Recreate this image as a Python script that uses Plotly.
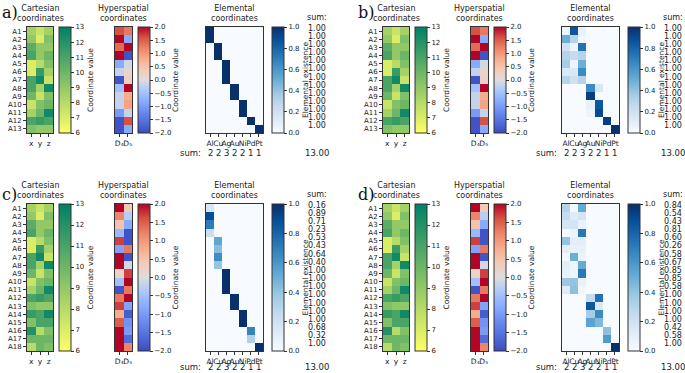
import plotly.graph_objects as go

W, H = 685, 373

# ---------------- data ----------------
atoms = ["A1", "A2", "A3", "A4", "A5", "A6", "A7", "A8", "A9",
         "A10", "A11", "A12", "A13", "A14", "A15", "A16", "A17", "A18"]
cart_labels = ["x", "y", "z"]
hyper_labels = ["D\u2084", "D\u2085"]
elements = ["Al", "Cu", "Ag", "Au", "Ni", "Pd", "Pt"]
element_counts = ["2", "2", "3", "2", "2", "1", "1"]
total_sum = "13.00"

cart_x = [8.5, 9.0, 10.5, 11.0, 7.0, 7.0, 11.0, 11.0, 10.0, 7.5, 8.5, 11.0, 9.5, 11.5, 9.5, 12.0, 10.0, 8.0]
cart_y = [7.5, 7.0, 9.0, 9.0, 8.0, 11.5, 12.5, 8.5, 7.5, 9.5, 10.0, 11.5, 9.0, 11.0, 11.0, 8.0, 10.0, 10.0]
cart_z = [8.5, 9.5, 9.0, 10.0, 9.5, 8.5, 7.5, 12.5, 9.5, 10.0, 12.5, 11.0, 9.0, 12.5, 11.0, 9.5, 10.0, 9.5]

hyper_ab_d4 = [1.6, 2.0, 1.4, 2.0, -0.8, -0.2, -1.9, -0.5, -0.2, -0.2, -1.0, -1.9, -1.9]
hyper_ab_d5 = [1.3, -0.8, 2.0, -1.9, -0.1, 0.2, 0.3, 2.0, 0.8, 0.9, -0.2, 1.6, -0.8]
hyper_cd_d4 = [2.0, 1.2, 0.5, -0.6, 1.7, -0.9, 2.0, 2.0, 0.2, -0.5, -1.9, 1.3, 1.7, 0.8, 1.5, 2.0, 2.0, 2.0]
hyper_cd_d5 = [0.4, -0.3, -0.8, -1.9, -1.9, 1.3, -1.9, -0.1, 1.7, 2.0, 1.3, 2.0, -0.9, -1.8, -1.1, -1.0, -1.6, 1.2]

# element existence matrices (rows: atoms, cols: Al Cu Ag Au Ni Pd Pt)
elem_a = [
    [1, 0, 0, 0, 0, 0, 0],
    [1, 0, 0, 0, 0, 0, 0],
    [0, 1, 0, 0, 0, 0, 0],
    [0, 1, 0, 0, 0, 0, 0],
    [0, 0, 1, 0, 0, 0, 0],
    [0, 0, 1, 0, 0, 0, 0],
    [0, 0, 1, 0, 0, 0, 0],
    [0, 0, 0, 1, 0, 0, 0],
    [0, 0, 0, 1, 0, 0, 0],
    [0, 0, 0, 0, 1, 0, 0],
    [0, 0, 0, 0, 1, 0, 0],
    [0, 0, 0, 0, 0, 1, 0],
    [0, 0, 0, 0, 0, 0, 1],
]
elem_b = [
    [0.05, 0.85, 0.08, 0, 0, 0, 0],
    [0.50, 0.30, 0.04, 0, 0, 0, 0],
    [0.20, 0.05, 0.75, 0, 0, 0, 0],
    [0.30, 0.25, 0.30, 0, 0, 0, 0],
    [0.35, 0.05, 0.50, 0, 0, 0, 0],
    [0.15, 0.15, 0.65, 0, 0, 0, 0],
    [0.30, 0.20, 0.30, 0, 0, 0, 0],
    [0, 0, 0, 0.65, 0.15, 0, 0],
    [0, 0, 0, 0.95, 0, 0, 0],
    [0, 0, 0, 0.08, 0.85, 0, 0],
    [0, 0, 0, 0.05, 0.90, 0, 0],
    [0, 0, 0, 0, 0, 0.95, 0],
    [0, 0, 0, 0, 0, 0, 1.0],
]
elem_c = [
    [0.16, 0, 0, 0, 0, 0, 0],
    [0.89, 0, 0, 0, 0, 0, 0],
    [0.71, 0, 0, 0, 0, 0, 0],
    [0.23, 0, 0, 0, 0, 0, 0],
    [0, 0.53, 0, 0, 0, 0, 0],
    [0, 0.43, 0, 0, 0, 0, 0],
    [0, 0.64, 0, 0, 0, 0, 0],
    [0, 0.40, 0, 0, 0, 0, 0],
    [0, 0, 1, 0, 0, 0, 0],
    [0, 0, 1, 0, 0, 0, 0],
    [0, 0, 1, 0, 0, 0, 0],
    [0, 0, 0, 1, 0, 0, 0],
    [0, 0, 0, 1, 0, 0, 0],
    [0, 0, 0, 0, 1, 0, 0],
    [0, 0, 0, 0, 1, 0, 0],
    [0, 0, 0, 0, 0, 0.68, 0],
    [0, 0, 0, 0, 0, 0.32, 0],
    [0, 0, 0, 0, 0, 0, 1],
]
elem_d = [
    [0.30, 0.02, 0.52, 0, 0, 0, 0],
    [0.25, 0.12, 0.17, 0, 0, 0, 0],
    [0.18, 0.18, 0.07, 0, 0, 0, 0],
    [0.02, 0.06, 0.73, 0, 0, 0, 0],
    [0.40, 0.10, 0.10, 0, 0, 0, 0],
    [0.10, 0.08, 0.08, 0, 0, 0, 0],
    [0.02, 0.50, 0.06, 0, 0, 0, 0],
    [0.10, 0.05, 0.52, 0, 0, 0, 0],
    [0.08, 0.05, 0.72, 0, 0, 0, 0],
    [0.38, 0.40, 0.07, 0, 0, 0, 0],
    [0.12, 0.42, 0.04, 0, 0, 0, 0],
    [0, 0, 0, 0.25, 0.75, 0, 0],
    [0, 0, 0, 0.85, 0.15, 0, 0],
    [0, 0, 0, 0.35, 0.65, 0, 0],
    [0, 0, 0, 0.55, 0.45, 0, 0],
    [0, 0, 0, 0, 0, 0.42, 0],
    [0, 0, 0, 0, 0, 0.58, 0],
    [0, 0, 0, 0, 0, 0, 1.0],
]
sums_a = ["1.00"] * 13
sums_b = ["1.00"] * 13
sums_c = ["0.16", "0.89", "0.71", "0.23", "0.53", "0.43", "0.64", "0.40", "1.00",
          "1.00", "1.00", "1.00", "1.00", "1.00", "1.00", "0.68", "0.32", "1.00"]
sums_d = ["0.84", "0.54", "0.43", "0.81", "0.60", "0.26", "0.58", "0.67", "0.85",
          "0.85", "0.58", "1.00", "1.00", "1.00", "1.00", "0.42", "0.58", "1.00"]

cart_ticks = [6, 7, 8, 9, 10, 11, 12, 13]
hyper_ticks = [-2.0, -1.5, -1.0, -0.5, 0.0, 0.5, 1.0, 1.5, 2.0]
elem_ticks = [0.0, 0.2, 0.4, 0.6, 0.8, 1.0]

# ---------------- styling ----------------
FONT = "DejaVu Sans"
TXT = "#222222"
LINE = "#333333"

summer_r = [[0.0, "rgb(255,255,102)"], [1.0, "rgb(0,128,102)"]]
coolwarm = [[0.0, "#3b4cc0"], [0.1, "#516ddb"], [0.2, "#6a8bef"], [0.3, "#88abfd"],
            [0.4, "#aac7fd"], [0.5, "#dddddd"], [0.6, "#f2cbb7"], [0.7, "#f7ac8e"],
            [0.8, "#ee8468"], [0.9, "#d65244"], [1.0, "#b40426"]]
blues = [[0.0, "#f7fbff"], [0.125, "#deebf7"], [0.25, "#c6dbef"], [0.375, "#9ecae1"],
         [0.5, "#6baed6"], [0.625, "#4292c6"], [0.75, "#2171b5"], [0.875, "#08519c"],
         [1.0, "#08306b"]]


def fx(px):
    return px / W


def fy(py):
    return 1 - py / H


def fmt(v):
    s = f"{v:.1f}"
    return s.replace("-", "\u2212")


fig = go.Figure()
annotations = []
layout = {}

panels = [
    dict(label="a)", dx=0, top=27, bot=133, n=13, hyp=(hyper_ab_d4, hyper_ab_d5), elem=elem_a, sums=sums_a, sy=20),
    dict(label="b)", dx=356, top=27, bot=133, n=13, hyp=(hyper_ab_d4, hyper_ab_d5), elem=elem_b, sums=sums_b, sy=20),
    dict(label="c)", dx=0, top=204, bot=351, n=18, hyp=(hyper_cd_d4, hyper_cd_d5), elem=elem_c, sums=sums_c, sy=16),
    dict(label="d)", dx=356, top=204, bot=351, n=18, hyp=(hyper_cd_d4, hyper_cd_d5), elem=elem_d, sums=sums_d, sy=16),
]

# heatmap x positions (px) and colorbar lefts
HM = {"cart": (27, 53), "hyp": (115, 132), "elem": (206, 263)}
CB = {"cart": 59, "hyp": 138, "elem": 272}
CB_TH = 12


def add_block(idx, kind, z, xt, zmin, zmax, cs, ticks, ticktext, p, show_y):
    n = idx
    xa = "x" if n == 1 else f"x{n}"
    ya = "y" if n == 1 else f"y{n}"
    nrows = len(z)
    ncols = len(z[0])
    x0, x1 = HM[kind]
    dx = p["dx"]
    top, bot = p["top"], p["bot"]
    fig.add_trace(go.Heatmap(
        z=z, x=list(range(ncols)), y=list(range(nrows)),
        xaxis=xa, yaxis=ya, zmin=zmin, zmax=zmax, colorscale=cs,
        hoverinfo="skip",
        colorbar=dict(
            x=fx(CB[kind] + dx), xanchor="left", xpad=0,
            y=fy(bot), yanchor="bottom", ypad=0,
            len=(bot - top) / H, lenmode="fraction",
            thickness=CB_TH, thicknessmode="pixels",
            outlinewidth=1, outlinecolor=LINE,
            ticks="outside", ticklen=3, tickwidth=0.8, tickcolor=LINE,
            tickvals=ticks, ticktext=ticktext,
            tickfont=dict(size=7, family=FONT, color=TXT),
        ),
    ))
    layout["xaxis" if n == 1 else f"xaxis{n}"] = dict(
        domain=[fx(x0 + dx), fx(x1 + dx)], anchor=ya,
        range=[-0.5, ncols - 0.5], tickvals=list(range(ncols)), ticktext=xt,
        tickangle=0, ticks="outside", ticklen=3, tickwidth=0.8, tickcolor=LINE,
        tickfont=dict(size=7.5, family=FONT, color=TXT),
        showline=True, mirror=True, linecolor=LINE, linewidth=1,
        showgrid=False, zeroline=False, fixedrange=True, automargin=False,
    )
    ydict = dict(
        domain=[fy(bot), fy(top)], anchor=xa,
        range=[nrows - 0.5, -0.5],
        showline=True, mirror=True, linecolor=LINE, linewidth=1,
        showgrid=False, zeroline=False, fixedrange=True, automargin=False,
    )
    if show_y:
        ydict.update(tickvals=list(range(nrows)), ticktext=atoms[:nrows],
                     ticks="outside", ticklen=3, tickwidth=0.8, tickcolor=LINE,
                     tickfont=dict(size=7, family=FONT, color=TXT))
    else:
        ydict.update(showticklabels=False, ticks="")
    layout["yaxis" if n == 1 else f"yaxis{n}"] = ydict
    return xa, ya


for i, p in enumerate(panels):
    nr = p["n"]
    dx = p["dx"]
    top, bot = p["top"], p["bot"]
    cart = [[cart_x[r], cart_y[r], cart_z[r]] for r in range(nr)]
    hyp = [[p["hyp"][0][r], p["hyp"][1][r]] for r in range(nr)]

    add_block(3 * i + 1, "cart", cart, cart_labels, 6, 13, summer_r,
              cart_ticks, [str(t) for t in cart_ticks], p, True)
    add_block(3 * i + 2, "hyp", hyp, hyper_labels, -2, 2, coolwarm,
              hyper_ticks, [fmt(t) for t in hyper_ticks], p, False)
    xa, ya = add_block(3 * i + 3, "elem", p["elem"], elements, 0, 1, blues,
                       elem_ticks, [fmt(t) for t in elem_ticks], p, False)

    # titles
    for kind, title in [("cart", "Cartesian<br>coordinates"),
                        ("hyp", "Hyperspatial<br>coordinates"),
                        ("elem", "Elemental<br>coordinates")]:
        x0, x1 = HM[kind]
        annotations.append(dict(
            x=fx((x0 + x1) / 2 + dx), y=fy(top - 2), xref="paper", yref="paper",
            text=title, showarrow=False, xanchor="center", yanchor="bottom",
            font=dict(size=8, family=FONT, color=TXT)))

    # colorbar labels
    mid = (top + bot) / 2
    for xpx, txt in [(90, "Coordinate value"), (175, "Coordinate value"),
                     (305, "Elemental existence")]:
        annotations.append(dict(
            x=fx(xpx + dx), y=fy(mid), xref="paper", yref="paper",
            text=txt, textangle=-90, showarrow=False,
            xanchor="center", yanchor="middle",
            font=dict(size=7.5, family=FONT, color=TXT)))

    # panel label
    annotations.append(dict(
        x=fx(0 + dx), y=fy(top - 26 if top < 100 else top - 21), xref="paper", yref="paper",
        text=p["label"], showarrow=False, xanchor="left", yanchor="top",
        font=dict(size=16, family="DejaVu Serif", color="#111111")))

    # sums on right
    annotations.append(dict(
        x=fx(317 + dx), y=fy(top - 3), xref="paper", yref="paper",
        text="sum:", showarrow=False, xanchor="center", yanchor="bottom",
        font=dict(size=8, family=FONT, color=TXT)))
    for r, s in enumerate(p["sums"]):
        annotations.append(dict(
            x=fx(317 + dx), y=r, xref="paper", yref=ya, yshift=3,
            text=s, showarrow=False, xanchor="center", yanchor="middle",
            font=dict(size=8, family=FONT, color=TXT)))

    # bottom sums
    sy = bot + p["sy"]
    annotations.append(dict(
        x=fx(203 + dx), y=fy(sy), xref="paper", yref="paper",
        text="sum:", showarrow=False, xanchor="right", yanchor="middle",
        font=dict(size=8.5, family=FONT, color=TXT)))
    for c, s in enumerate(element_counts):
        annotations.append(dict(
            x=c, y=fy(sy), xref=xa, yref="paper",
            text=s, showarrow=False, xanchor="center", yanchor="middle",
            font=dict(size=8.5, family=FONT, color=TXT)))
    annotations.append(dict(
        x=fx(317 + dx), y=fy(sy), xref="paper", yref="paper",
        text=total_sum, showarrow=False, xanchor="center", yanchor="middle",
        font=dict(size=8.5, family=FONT, color=TXT)))

fig.update_layout(
    width=W, height=H,
    margin=dict(l=0, r=0, t=0, b=0, pad=0),
    paper_bgcolor="white", plot_bgcolor="white",
    showlegend=False,
    annotations=annotations,
    font=dict(family=FONT, color=TXT),
    **layout,
)

fig.write_html(
    "out.html",
    config={"displayModeBar": False},
    post_script="document.body.style.margin='0';document.body.style.padding='0';",
)
